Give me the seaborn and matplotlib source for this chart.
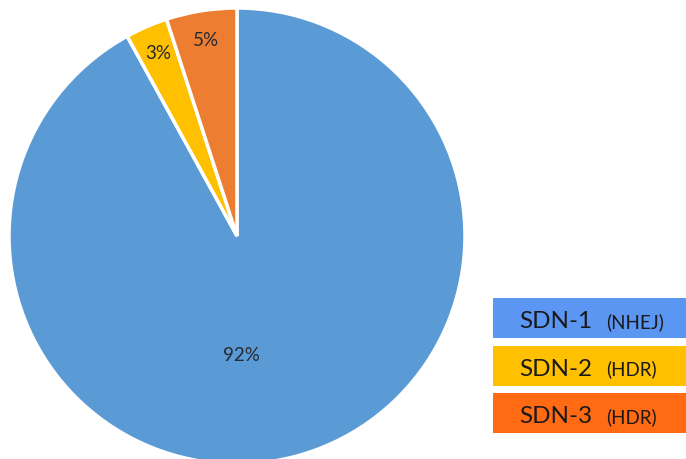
import matplotlib
matplotlib.use("Agg")
import matplotlib.pyplot as plt
import seaborn as sns
import numpy as np
from matplotlib.patches import Rectangle

sns.set_theme(style="white")
plt.rcParams['font.family'] = ['Lato', 'DejaVu Sans']

# Data
categories = ["SDN-1", "SDN-2", "SDN-3"]
subtitles = ["(NHEJ)", "(HDR)", "(HDR)"]
values = [92, 3, 5]
pie_colors = ["#5B9BD5", "#FFC000", "#ED7D31"]
legend_colors = ["#5A96F2", "#FFC000", "#FF6A13"]

W, H = 686, 459
fig = plt.figure(figsize=(W / 100, H / 100), dpi=100)
fig.patch.set_facecolor("white")

# pie axes: center (237, 236) px, radius 228 px
cx, cy, r = 237, 236, 228
ax = fig.add_axes([(cx - r) / W, (H - cy - r) / H, 2 * r / W, 2 * r / H])
wedges, texts, autotexts = ax.pie(
    values, colors=pie_colors, startangle=90, counterclock=False,
    autopct="%d%%", pctdistance=0.52,
    wedgeprops=dict(edgecolor="white", linewidth=2.5),
    textprops=dict(fontsize=13.5, color="#262a33"),
)
# push small slice labels outward like the reference
for w, t, v in zip(wedges, autotexts, values):
    if v < 10:
        ang = np.deg2rad((w.theta1 + w.theta2) / 2)
        t.set_position((0.87 * np.cos(ang), 0.87 * np.sin(ang)))
    else:
        t.set_position((0.02, -0.525))
ax.set_xlim(-1, 1)
ax.set_ylim(-1, 1)
ax.set_aspect("equal")
ax.axis("off")
for w in wedges:
    w.set_clip_on(False)

# Custom legend boxes
box_x, box_w, box_h, gap = 493, 200, 40, 7.5
top0 = 298
for i, (cat, sub, col) in enumerate(zip(categories, subtitles, legend_colors)):
    top = top0 + i * (box_h + gap)
    fig.patches.append(Rectangle((box_x / W, (H - top - box_h) / H), box_w / W, box_h / H,
                                 transform=fig.transFigure, facecolor=col, edgecolor="none"))
    base = (H - (top + box_h / 2 + 10)) / H
    t1 = fig.text(519 / W, base, cat, fontsize=17.5, color="#1A1A1A", va="baseline", ha="left")
    fig.canvas.draw()
    bb = t1.get_window_extent()
    fig.text((bb.x1 + 14) / W, base, sub, fontsize=13.5, color="#1A1A1A", va="baseline", ha="left")

fig.savefig("out.png", dpi=100, facecolor="white")
